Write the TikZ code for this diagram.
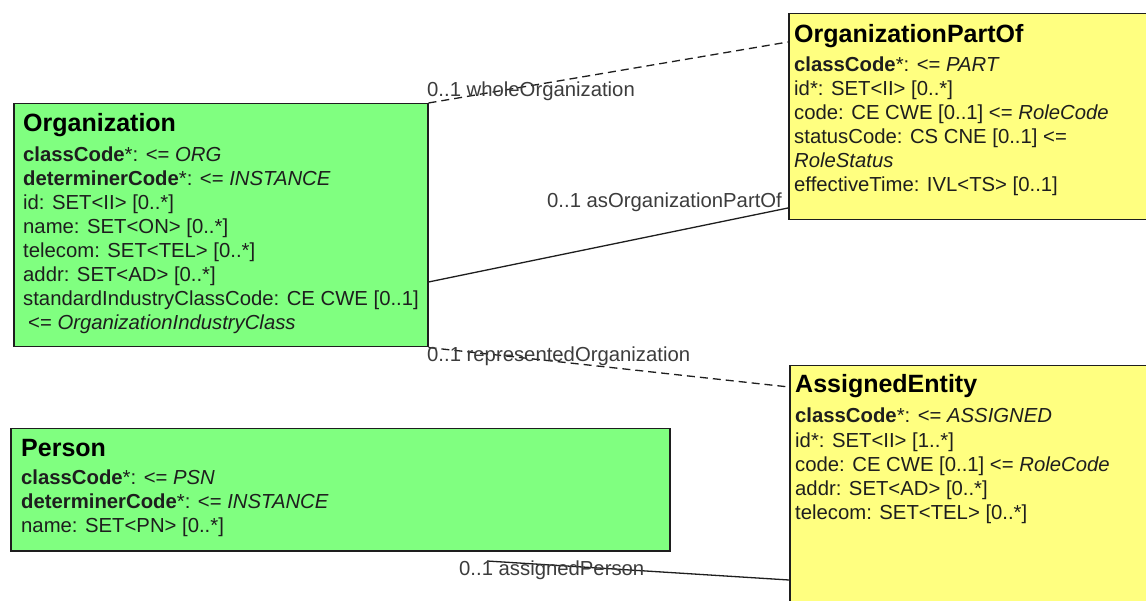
\documentclass[tikz,border=0pt]{standalone}
\usepackage{fontspec}
\setmainfont{Liberation Sans}
\usetikzlibrary{calc}
\newcommand\attrsize{\fontsize{20.3}{24}\selectfont}
\newcommand\ttlsize{\fontsize{25}{30}\selectfont\bfseries}
\definecolor{umlgreen}{RGB}{128,255,128}
\definecolor{umlyellow}{RGB}{255,255,128}
\definecolor{inkc}{RGB}{30,30,30}
\definecolor{lblc}{RGB}{60,60,60}
\tikzset{
  classbox/.style={draw=inkc, line width=1.5pt, inner sep=0pt, anchor=north west},
  greenbox/.style={classbox, fill=umlgreen},
  yellowbox/.style={classbox, fill=umlyellow},
  txt/.style={anchor=base west, inner sep=0pt, font=\attrsize, text=inkc},
  ttl/.style={anchor=base west, inner sep=0pt, font=\ttlsize, text=black},
  lbl/.style={anchor=base west, inner sep=0pt, font=\attrsize, text=lblc},
  assoc/.style={draw=inkc, line width=1.3pt},
  dassoc/.style={assoc, dash pattern=on 8pt off 5pt}
}
\begin{document}
\begin{tikzpicture}[x=1pt,y=-1pt]
\useasboundingbox (0,0) rectangle (1146,601);
\clip (0,0) rectangle (1146,601);
\fill[white] (0,0) rectangle (1146,601);

% boxes
\node[greenbox, minimum width=414pt, minimum height=243pt] (org) at (13,103) {};
\node[yellowbox, minimum width=420pt, minimum height=206pt] (partof) at (788,13) {};
\node[yellowbox, minimum width=420pt, minimum height=300pt] (assigned) at (789,365) {};
\node[greenbox, minimum width=659pt, minimum height=122pt] (person) at (10,428) {};

% Organization
\node[ttl] (orgT) at (23,132) {Organization};
\node[txt] (orgA1) at (23,162) {\textbf{classCode}*: <= \textit{ORG}};
\node[txt] (orgA2) at (23,186) {\textbf{determinerCode}*: <= \textit{INSTANCE}};
\node[txt] (orgA3) at (23,210) {id: SET<II> [0..*]};
\node[txt] (orgA4) at (23,234) {name: SET<ON> [0..*]};
\node[txt] (orgA5) at (23,258) {telecom: SET<TEL> [0..*]};
\node[txt] (orgA6) at (23,282) {addr: SET<AD> [0..*]};
\node[txt] (orgA7) at (23,306) {standardIndustryClassCode: CE CWE [0..1]};
\node[txt] (orgA8) at (28,330) {<= \textit{OrganizationIndustryClass}};

% OrganizationPartOf
\node[ttl] (poT) at (794,43) {OrganizationPartOf};
\node[txt] (poA1) at (794,72) {\textbf{classCode}*: <= \textit{PART}};
\node[txt] (poA2) at (794,96) {id*: SET<II> [0..*]};
\node[txt] (poA3) at (794,120) {code: CE CWE [0..1] <= \textit{RoleCode}};
\node[txt] (poA4) at (794,144) {statusCode: CS CNE [0..1] <=};
\node[txt] (poA5) at (794,168) {\textit{RoleStatus}};
\node[txt] (poA6) at (794,192) {effectiveTime: IVL<TS> [0..1]};

% AssignedEntity
\node[ttl] (aeT) at (795,393) {AssignedEntity};
\node[txt] (aeA1) at (795,423) {\textbf{classCode}*: <= \textit{ASSIGNED}};
\node[txt] (aeA2) at (795,447) {id*: SET<II> [1..*]};
\node[txt] (aeA3) at (795,471) {code: CE CWE [0..1] <= \textit{RoleCode}};
\node[txt] (aeA4) at (795,495) {addr: SET<AD> [0..*]};
\node[txt] (aeA5) at (795,519) {telecom: SET<TEL> [0..*]};

% Person
\node[ttl] (peT) at (21,456) {Person};
\node[txt] (peA1) at (21,484) {\textbf{classCode}*: <= \textit{PSN}};
\node[txt] (peA2) at (21,508) {\textbf{determinerCode}*: <= \textit{INSTANCE}};
\node[txt] (peA3) at (21,532) {name: SET<PN> [0..*]};

% connectors
\coordinate (pstart) at (487,561);
\draw[dassoc] (org.north east) -- ($(partof.north west)+(0,29)$);
\draw[assoc] ($(org.north east)+(0,179)$) -- ($(partof.north west)+(0,195)$);
\draw[dassoc] (org.south east) -- ($(assigned.north west)+(0,22)$);
\draw[assoc] (pstart) -- ($(assigned.north west)+(0,215)$);

% labels
\node[lbl] (l1) at (427,97) {0..1 wholeOrganization};
\node[lbl] (l2) at (547,208) {0..1 asOrganizationPartOf};
\node[lbl] (l3) at (427,362) {0..1 representedOrganization};
\node[lbl] (l4) at (459,575) {0..1 assignedPerson};
\end{tikzpicture}
\end{document}
